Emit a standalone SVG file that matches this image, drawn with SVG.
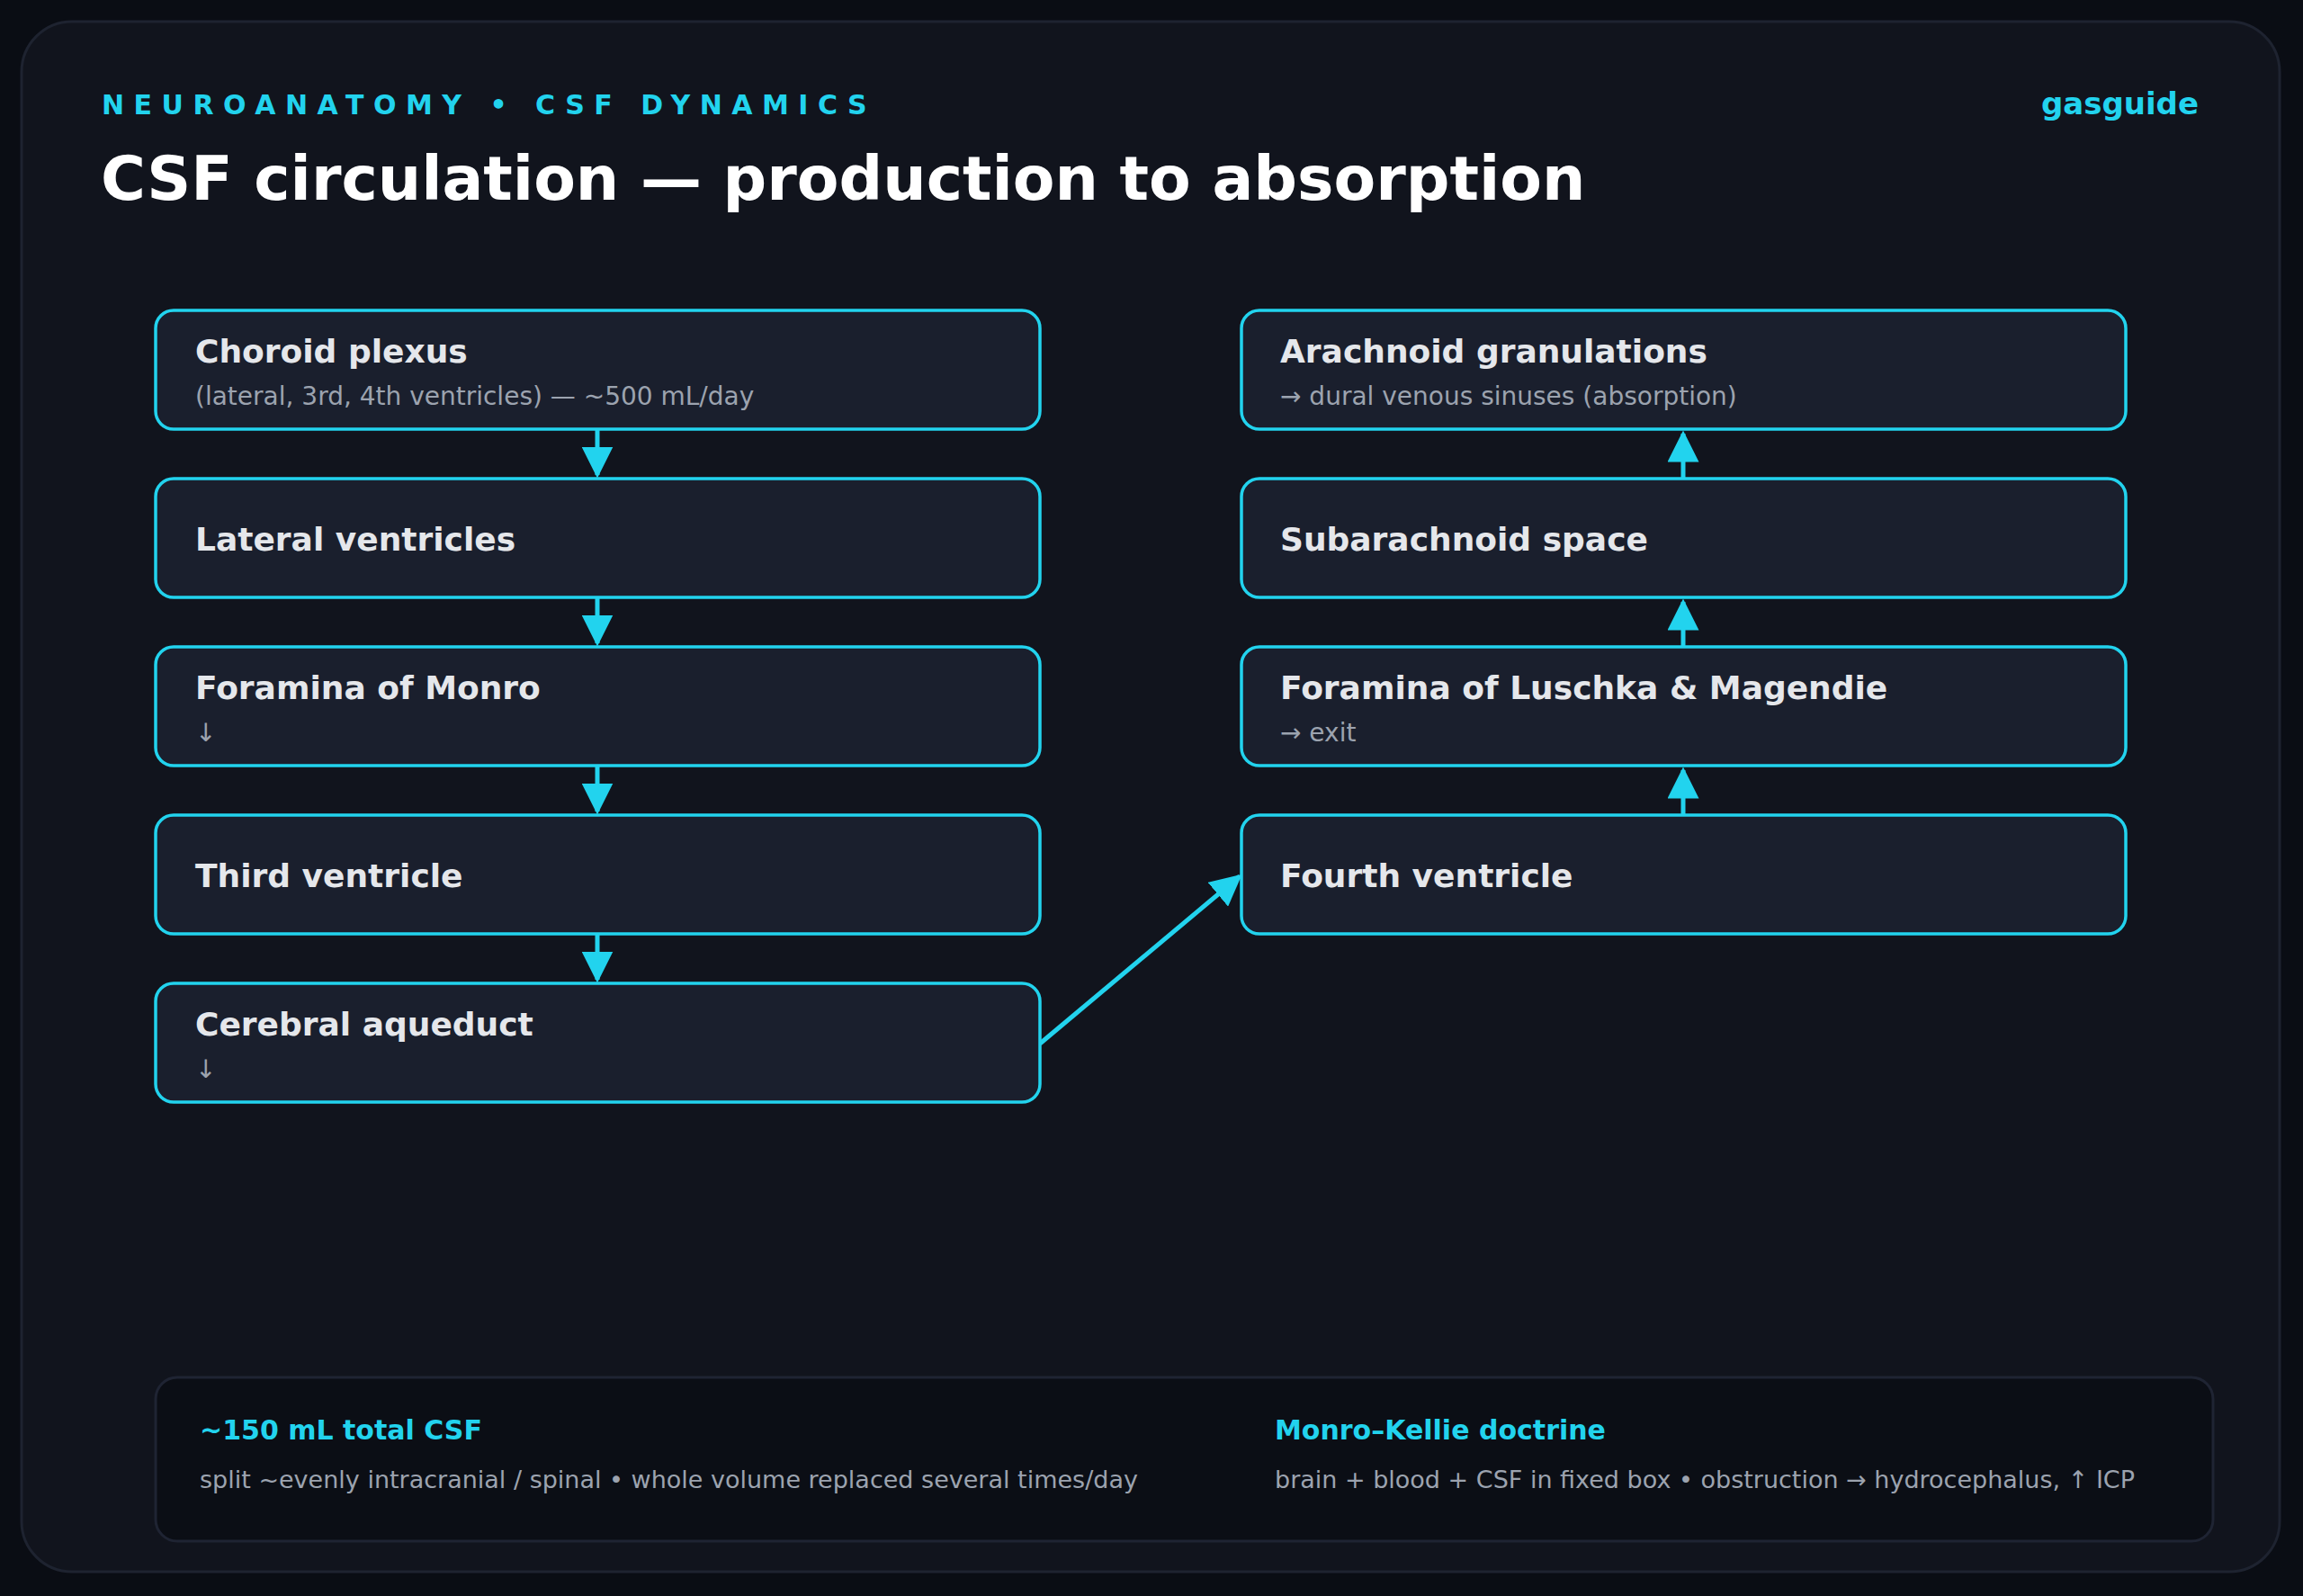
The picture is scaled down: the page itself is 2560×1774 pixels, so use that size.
<svg xmlns="http://www.w3.org/2000/svg" width="2560" height="1774" viewBox="0 0 2560 1774">
<defs>
<style>
text{font-family:"DejaVu Sans","Liberation Sans",sans-serif}
.box{fill:#1a1f2d;stroke:#22d3ee;stroke-width:3.5}
.t{fill:#e5e7eb;font-size:36px;font-weight:bold}
.s{fill:#9ca3af;font-size:28px}
.c{stroke:#22d3ee;stroke-width:5;fill:none;marker-end:url(#ah)}
.ft{fill:#22d3ee;font-size:30px;font-weight:bold}
.fs{fill:#9ca3af;font-size:27px}
</style>
<marker id="ah" viewBox="0 0 10 10" refX="9" refY="5" markerWidth="7" markerHeight="7" markerUnits="strokeWidth" orient="auto"><path d="M0,0 L10,5 L0,10 Z" fill="#22d3ee"/></marker>
</defs>
<rect width="2560" height="1774" fill="#0a0d14"/>
<rect x="24" y="24" width="2510" height="1723" rx="56" fill="#11141d" stroke="#1e2330" stroke-width="3"/>
<text x="113" y="127" fill="#22d3ee" font-size="30" font-weight="bold" letter-spacing="10.5">NEUROANATOMY • CSF DYNAMICS</text>
<text x="2444" y="127" fill="#22d3ee" font-size="34" font-weight="bold" text-anchor="end">gasguide</text>
<text x="112" y="222" fill="#ffffff" font-size="68" font-weight="bold">CSF circulation — production to absorption</text>
<g id="connectors">
<line class="c" x1="664" y1="478" x2="664" y2="528"/>
<line class="c" x1="664" y1="665" x2="664" y2="715"/>
<line class="c" x1="664" y1="852" x2="664" y2="902"/>
<line class="c" x1="664" y1="1039" x2="664" y2="1089"/>
<line class="c" x1="1156" y1="1160" x2="1378" y2="974"/>
<line class="c" x1="1871" y1="905" x2="1871" y2="856"/>
<line class="c" x1="1871" y1="718" x2="1871" y2="669"/>
<line class="c" x1="1871" y1="531" x2="1871" y2="482"/>
</g>
<g id="choroid"><rect class="box" x="173" y="345" width="983" height="132" rx="20"/><text class="t" x="217" y="403">Choroid plexus</text><text class="s" x="217" y="450">(lateral, 3rd, 4th ventricles) — ~500 mL/day</text></g>
<g id="lateral"><rect class="box" x="173" y="532" width="983" height="132" rx="20"/><text class="t" x="217" y="612">Lateral ventricles</text></g>
<g id="monro"><rect class="box" x="173" y="719" width="983" height="132" rx="20"/><text class="t" x="217" y="777">Foramina of Monro</text><text class="s" x="217" y="824">↓</text></g>
<g id="third"><rect class="box" x="173" y="906" width="983" height="132" rx="20"/><text class="t" x="217" y="986">Third ventricle</text></g>
<g id="aqueduct"><rect class="box" x="173" y="1093" width="983" height="132" rx="20"/><text class="t" x="217" y="1151">Cerebral aqueduct</text><text class="s" x="217" y="1198">↓</text></g>
<g id="arachnoid"><rect class="box" x="1380" y="345" width="983" height="132" rx="20"/><text class="t" x="1423" y="403">Arachnoid granulations</text><text class="s" x="1423" y="450">→ dural venous sinuses (absorption)</text></g>
<g id="subarachnoid"><rect class="box" x="1380" y="532" width="983" height="132" rx="20"/><text class="t" x="1423" y="612">Subarachnoid space</text></g>
<g id="luschka"><rect class="box" x="1380" y="719" width="983" height="132" rx="20"/><text class="t" x="1423" y="777">Foramina of Luschka &amp; Magendie</text><text class="s" x="1423" y="824">→ exit</text></g>
<g id="fourth"><rect class="box" x="1380" y="906" width="983" height="132" rx="20"/><text class="t" x="1423" y="986">Fourth ventricle</text></g>
<g id="footer">
<rect x="173" y="1531" width="2287" height="182" rx="24" fill="#0b0e15" stroke="#1f2433" stroke-width="3"/>
<text class="ft" x="222" y="1600">~150 mL total CSF</text>
<text class="fs" x="222" y="1654">split ~evenly intracranial / spinal • whole volume replaced several times/day</text>
<text class="ft" x="1417" y="1600">Monro–Kellie doctrine</text>
<text class="fs" x="1417" y="1654">brain + blood + CSF in fixed box • obstruction → hydrocephalus, ↑ ICP</text>
</g>
</svg>
